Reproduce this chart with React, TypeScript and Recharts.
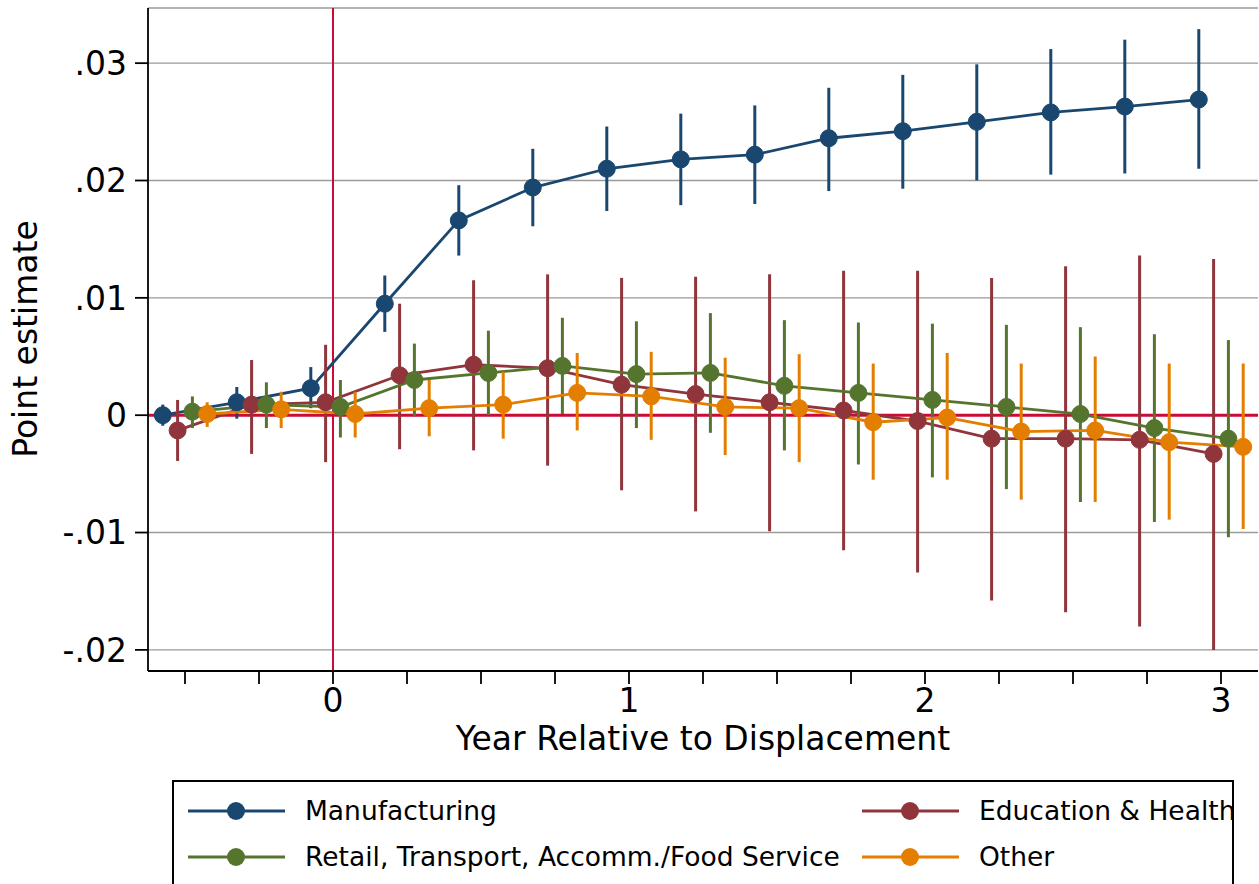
import { ComposedChart, Line, XAxis, YAxis, CartesianGrid, ReferenceLine, ErrorBar } from 'recharts';

// event time in quarters relative to displacement
const quarters = [-2, -1, 0, 1, 2, 3, 4, 5, 6, 7, 8, 9, 10, 11, 12];

const mfgEst = [0.0, 0.0011, 0.0023, 0.0095, 0.0166, 0.0194, 0.021, 0.0218, 0.0222, 0.0236, 0.0242, 0.025, 0.0258, 0.0263, 0.0269];
const mfgLo = [-0.0009, -0.0003, 0.0006, 0.0071, 0.0136, 0.0161, 0.0174, 0.0179, 0.018, 0.0191, 0.0193, 0.02, 0.0205, 0.0206, 0.021];
const mfgHi = [0.0009, 0.0024, 0.0041, 0.0119, 0.0196, 0.0227, 0.0246, 0.0257, 0.0264, 0.0279, 0.029, 0.0299, 0.0312, 0.032, 0.0329];

const eduEst = [-0.0013, 0.0009, 0.0011, 0.0034, 0.0043, 0.004, 0.0026, 0.0018, 0.0011, 0.0004, -0.0005, -0.002, -0.002, -0.0021, -0.0033];
const eduLo = [-0.0039, -0.0033, -0.004, -0.0029, -0.003, -0.0043, -0.0064, -0.0082, -0.0099, -0.0115, -0.0134, -0.0158, -0.0168, -0.018, -0.02];
const eduHi = [0.0013, 0.0047, 0.006, 0.0095, 0.0115, 0.012, 0.0117, 0.0118, 0.012, 0.0123, 0.0123, 0.0117, 0.0127, 0.0136, 0.0133];

const retEst = [0.0003, 0.0009, 0.0007, 0.003, 0.0036, 0.0042, 0.0035, 0.0036, 0.0025, 0.0019, 0.0013, 0.0007, 0.0001, -0.0011, -0.002];
const retLo = [-0.0011, -0.0011, -0.0019, -0.0001, 0.0, 0.0001, -0.0011, -0.0015, -0.003, -0.0042, -0.0053, -0.0063, -0.0074, -0.0091, -0.0104];
const retHi = [0.0016, 0.0028, 0.003, 0.0061, 0.0072, 0.0083, 0.008, 0.0087, 0.0081, 0.0079, 0.0078, 0.0077, 0.0075, 0.0069, 0.0064];

const othEst = [0.0001, 0.0005, 0.0001, 0.0006, 0.0009, 0.0019, 0.0016, 0.0007, 0.0006, -0.0006, -0.0002, -0.0014, -0.0013, -0.0023, -0.0027];
const othLo = [-0.001, -0.0011, -0.0019, -0.0018, -0.002, -0.0013, -0.0021, -0.0034, -0.004, -0.0055, -0.0055, -0.0072, -0.0074, -0.0089, -0.0097];
const othHi = [0.0011, 0.002, 0.002, 0.003, 0.0037, 0.0053, 0.0054, 0.0049, 0.0052, 0.0044, 0.0053, 0.0044, 0.005, 0.0044, 0.0044];

const xTicks = [-0.5, -0.25, 0, 0.25, 0.5, 0.75, 1, 1.25, 1.5, 1.75, 2, 2.25, 2.5, 2.75, 3];
const yTicks = [-0.02, -0.01, 0, 0.01, 0.02, 0.03];

const FONT = 'DejaVu Sans';
const RED = '#cc0a36';

// dodge: each series shifted a bit along x so the CIs don't overlap
const series = [
  { name: 'Manufacturing', color: '#1a476f', dodge: -0.075, est: mfgEst, lo: mfgLo, hi: mfgHi },
  { name: 'Education & Health', color: '#90353b', dodge: -0.025, est: eduEst, lo: eduLo, hi: eduHi },
  { name: 'Retail, Transport, Accomm./Food Service', color: '#55752f', dodge: 0.025, est: retEst, lo: retLo, hi: retHi },
  { name: 'Other', color: '#e37e00', dodge: 0.075, est: othEst, lo: othLo, hi: othHi },
];

const buildRows = (s: typeof series[number]) =>
  quarters.map((q, i) => ({
    x: q / 4 + s.dodge,
    y: s.est[i],
    err: [s.est[i] - s.lo[i], s.hi[i] - s.est[i]],
  }));

const fmtY = (v: number) => {
  if (Math.abs(v) < 1e-9) return '0';
  return (v < 0 ? '-' : '') + Math.abs(v).toFixed(2).replace(/^0/, '');
};
const fmtX = (v: number) => (Number.isInteger(v) ? String(v) : '');

function LegendKey({ color }: { color: string }) {
  return (
    <svg width={100} height={24} style={{ display: 'block' }}>
      <line x1={0} y1={12} x2={97} y2={12} stroke={color} strokeWidth={3} />
      <circle cx={48} cy={12} r={9} fill={color} />
    </svg>
  );
}

function LegendBox() {
  const cols = [
    { s: series[0], left: 14, top: 13 },
    { s: series[1], left: 688, top: 13 },
    { s: series[2], left: 14, top: 59 },
    { s: series[3], left: 688, top: 59 },
  ];
  return (
    <div
      style={{
        position: 'absolute',
        left: 172,
        top: 780,
        width: 1062,
        height: 130,
        border: '2px solid #000',
        boxSizing: 'border-box',
        fontFamily: FONT,
        fontSize: 26.5,
      }}
    >
      {cols.map(({ s, left, top }) => (
        <div key={s.name} style={{ position: 'absolute', left, top, display: 'flex', alignItems: 'center', whiteSpace: 'nowrap' }}>
          <LegendKey color={s.color} />
          <span style={{ marginLeft: 17 }}>{s.name}</span>
        </div>
      ))}
    </div>
  );
}

export default function App() {
  return (
    <div style={{ position: 'absolute', left: 0, top: 0, width: 1259, height: 884, background: '#fff', overflow: 'hidden' }}>
      <ComposedChart width={1259} height={770} margin={{ top: 8, right: 1, left: 0, bottom: 0 }}>
        <CartesianGrid vertical={false} stroke="#9a9a9a" strokeWidth={1.4} />
        <XAxis
          type="number"
          dataKey="x"
          domain={[-0.625, 3.125]}
          allowDataOverflow
          ticks={xTicks}
          tickFormatter={fmtX}
          tickSize={13}
          tickMargin={5}
          height={99}
          interval={0}
          stroke="#000"
          strokeWidth={1.8}
          tick={{ fill: '#000', fontSize: 33, fontFamily: FONT }}
          label={{ value: 'Year Relative to Displacement', position: 'insideTop', offset: 56, fill: '#000', fontSize: 33, fontFamily: FONT }}
        />
        <YAxis
          type="number"
          domain={[-0.0218, 0.0347]}
          allowDataOverflow
          ticks={yTicks}
          tickFormatter={fmtY}
          tickSize={13}
          tickMargin={8}
          width={148}
          interval={0}
          stroke="#000"
          strokeWidth={1.8}
          tick={{ fill: '#000', fontSize: 33, fontFamily: FONT }}
          label={{
            content: () => (
              <text x={37} y={339} transform="rotate(-90, 37, 339)" textAnchor="middle" fontSize={33} fontFamily={FONT} fill="#000">
                Point estimate
              </text>
            ),
          }}
        />
        <ReferenceLine y={0} stroke={RED} strokeWidth={3} />
        <ReferenceLine x={0} stroke={RED} strokeWidth={2} />
        {series.map((s) => (
          <Line
            key={s.name}
            data={buildRows(s)}
            dataKey="y"
            name={s.name}
            type="linear"
            stroke={s.color}
            strokeWidth={2.8}
            dot={{ r: 8.5, fill: s.color, stroke: s.color, strokeWidth: 1 }}
            activeDot={false}
            isAnimationActive={false}
          >
            <ErrorBar dataKey="err" direction="y" width={0} stroke={s.color} strokeWidth={3} isAnimationActive={false} />
          </Line>
        ))}
      </ComposedChart>
      <LegendBox />
    </div>
  );
}
